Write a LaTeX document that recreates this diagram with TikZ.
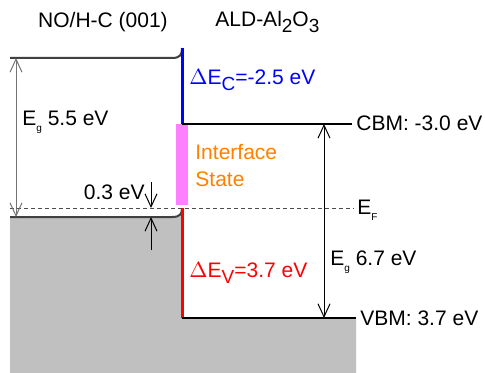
\documentclass[tikz,border=0pt]{standalone}
\usepackage{fontspec}
\setmainfont{Liberation Sans}
\usetikzlibrary{arrows.meta}
\definecolor{bulkgray}{RGB}{192,192,192}
\definecolor{statepink}{RGB}{255,128,255}
\definecolor{stateorange}{RGB}{255,128,0}
\newcommand{\bigsub}[1]{\raisebox{-0.32em}{\fontsize{9.5}{10}\selectfont #1}}
\newcommand{\tinysub}[1]{\raisebox{-0.3em}{\fontsize{5}{6}\selectfont #1}}
\tikzset{
  lbl/.style={inner sep=0pt, font=\fontsize{10.5}{12.5}\selectfont},
  gaparrow/.style={{Straight Barb[length=6.5pt,width=6pt]}-{Straight Barb[length=6.5pt,width=6pt]}, line width=0.5pt},
  onearrow/.style={-{Straight Barb[length=6.5pt,width=6pt]}, line width=0.5pt}
}
\begin{document}
\begin{tikzpicture}[x=0.5pt, y=-0.5pt]
        \useasboundingbox (0,0) rectangle (485,373);
        %levels
        \coordinate (cbmL) at (10,58);
        \coordinate (vbmL) at (10,217);
        \coordinate (topI) at (182,48);
        \coordinate (cbmI) at (182,124);
        \coordinate (efI) at (182,208);
        \coordinate (vbmI) at (182,318);
        \coordinate (cbmR) at (352,124);
        \coordinate (vbmR) at (356,318);
        %diamond valence side
        \fill[bulkgray] (vbmL)--(172,217) .. controls (180,217) and (182,214) .. (efI)
                  --(vbmI)--(vbmR)--(356,373)--(10,373)--cycle;
        \draw[line width=1pt, black!75] (vbmL)--(172,217) .. controls (180,217) and (182,214) .. (efI);
        \draw[line width=1pt, black!75] (cbmL)--(172,58) .. controls (180,58) and (182,55) .. (topI);
        %tratteggi
        \draw[line width=0.5pt, black!70, dash pattern=on 2pt off 1.5pt] (10,208)--(354,208);
        %interface
        \fill[statepink] (176,124) rectangle (188,205);
        \draw[line width=1.5pt, blue] (topI)--(cbmI);
        \draw[line width=1.5pt, red] (efI)--(vbmI);
        \draw[line width=0.8pt] (cbmI)--(cbmR);
        \draw[line width=0.8pt] (vbmI)--(vbmR);
        %arrows
        \coordinate (g1t) at (16,58);
        \coordinate (g1b) at (16,217);
        \draw[gaparrow, black!55] (g1t)--(g1b);
        \coordinate (d1t) at (151,182);
        \coordinate (d1b) at (151,250);
        \draw[onearrow] (d1t)--(151,208);
        \draw[onearrow] (d1b)--(151,217);
        \coordinate (g2t) at (324,124);
        \coordinate (g2b) at (324,318);
        \draw[gaparrow] (g2t)--(g2b);
        %label
        \node[lbl] (diamond) at (103,22) {NO/H-C (001)};
        \node[lbl, anchor=west] (oxide) at (215,22) {ALD-Al\bigsub{2}O\bigsub{3}};
        \node[lbl, anchor=west, text=blue] (dEc) at (189,80) {$\Delta$E\bigsub{C}=-2.5 eV};
        \node[lbl, anchor=west, text=stateorange, align=left] (istate) at (195,166) {Interface\\[1pt]State};
        \node[lbl, anchor=west, text=red] (dEv) at (189,273) {$\Delta$E\bigsub{V}=3.7 eV};
        \node[lbl, anchor=west] (eg1) at (22,122) {E\tinysub{g} 5.5 eV};
        \node[lbl, anchor=east] (off) at (145,192) {0.3 eV};
        \node[lbl, anchor=west] (eg2) at (330,262) {E\tinysub{g} 6.7 eV};
        \node[lbl, anchor=west] (cbm) at (356,123) {CBM: -3.0 eV};
        \node[lbl, anchor=west] (ef) at (357,210) {E\tinysub{F}};
        \node[lbl, anchor=west] (vbm) at (360,318) {VBM: 3.7 eV};
\end{tikzpicture}
\end{document}
